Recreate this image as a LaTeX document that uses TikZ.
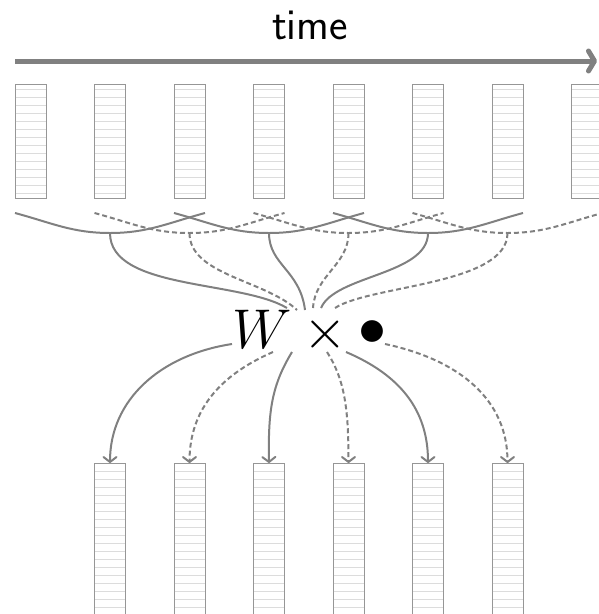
\RequirePackage{fix-cm}
\documentclass[tikz,border=0pt]{standalone}
\usetikzlibrary{arrows.meta,calc}
\definecolor{linegray}{RGB}{128,128,128}
\definecolor{boxgray}{RGB}{150,150,150}
\definecolor{rulegray}{RGB}{220,220,220}
\tikzset{
  colbox/.style={draw=boxgray, line width=1pt, minimum width=31pt, minimum height=#1, inner sep=0pt, outer sep=0pt, anchor=north west},
  rule/.style={draw=rulegray, line width=1pt},
  conn/.style={draw=linegray, line width=2pt},
  dconn/.style={conn, dash pattern=on 5pt off 3pt},
  tip/.style={-{Straight Barb[length=5pt,width=13pt,round]}},
  bigtext/.style={font=\fontsize{56}{60}\selectfont, inner sep=0pt}
}
\begin{document}
\begin{tikzpicture}[x=1pt,y=1pt]
\useasboundingbox (0,0) rectangle (598,-614);
% time arrow
\node[font=\sffamily\fontsize{44}{48}\selectfont] (time) at (310,-25) {time};
\coordinate (ts) at (15,-61);
\coordinate (te) at (597,-61);
\draw[linegray, line width=5pt, -{Straight Barb[length=6pt,width=20pt,round]}] (ts) -- (te);
% top columns
\foreach \i in {0,...,7} {
  \node[colbox=114pt] (t\i) at ({15+79.5*\i},-84) {};
  \foreach \k in {0,...,13}
    \draw[rule] ($(t\i.north west)+(0.5,{-5.3-8*\k})$) -- ($(t\i.north east)+(-0.5,{-5.3-8*\k})$);
}
% bottom columns
\foreach \i in {1,...,6} {
  \node[colbox=170pt] (b\i) at ({15+79.5*\i},-463) {};
  \foreach \k in {0,...,19}
    \draw[rule] ($(b\i.north west)+(0.5,{-8-8*\k})$) -- ($(b\i.north east)+(-0.5,{-8-8*\k})$);
}
% window curves
\foreach \i in {1,...,6} {
  \pgfmathtruncatemacro\lo{\i-1}
  \pgfmathtruncatemacro\hi{\i+1}
  \pgfmathtruncatemacro\odd{mod(\i,2)}
  \coordinate (w\i) at ($(t\i.south)+(0,-35)$);
  \coordinate (l\i) at ($(t\lo.south west)+(0,-15)$);
  \coordinate (r\i) at ($(t\hi.south east)+(0,-15)$);
  \ifnum\odd=1
    \draw[conn] (l\i) to[out=-15,in=180] (w\i) to[out=0,in=195] (r\i);
  \else
    \draw[dconn] (l\i) to[out=-15,in=180] (w\i) to[out=0,in=195] (r\i);
  \fi
}
% operator
\node[bigtext] (W) at (262,-329) {$W$};
\node[bigtext] (times) at (325,-334) {$\times$};
\node[bigtext] (dot) at (372,-333) {$\bullet$};
% incoming ends
\coordinate (e1) at (287,-308);
\coordinate (e2) at (297,-310);
\coordinate (e3) at (305,-310);
\coordinate (e4) at (313,-308);
\coordinate (e5) at (321,-308);
\coordinate (e6) at (335,-308);
\draw[conn]  (w1) .. controls +(0,-57) and +(-47,28) .. (e1);
\draw[dconn] (w2) .. controls +(0,-42) and +(-32,30) .. (e2);
\draw[conn]  (w3) .. controls +(0,-32) and +(-5,40) .. (e3);
\draw[dconn] (w4) .. controls +(0,-32) and +(2,33) .. (e4);
\draw[conn]  (w5) .. controls +(0,-42) and +(14,33) .. (e5);
\draw[dconn] (w6) .. controls +(0,-52) and +(35,23) .. (e6);
% outgoing starts
\coordinate (s1) at (232,-344);
\coordinate (s2) at (273,-352);
\coordinate (s3) at (292,-352);
\coordinate (s4) at (327,-352);
\coordinate (s5) at (346,-352);
\coordinate (s6) at (385,-344);
\draw[conn,tip]  (s1) .. controls +(-72,-11) and +(0,63) .. (b1.north);
\draw[dconn,tip] (s2) .. controls +(-53,-23) and +(0,53) .. (b2.north);
\draw[conn,tip]  (s3) .. controls +(-20,-33) and +(-1,53) .. (b3.north);
\draw[dconn,tip] (s4) .. controls +(18,-28) and +(0,53) .. (b4.north);
\draw[conn,tip]  (s5) .. controls +(54,-23) and +(0,53) .. (b5.north);
\draw[dconn,tip] (s6) .. controls +(75,-16) and +(0,63) .. (b6.north);
\end{tikzpicture}
\end{document}
